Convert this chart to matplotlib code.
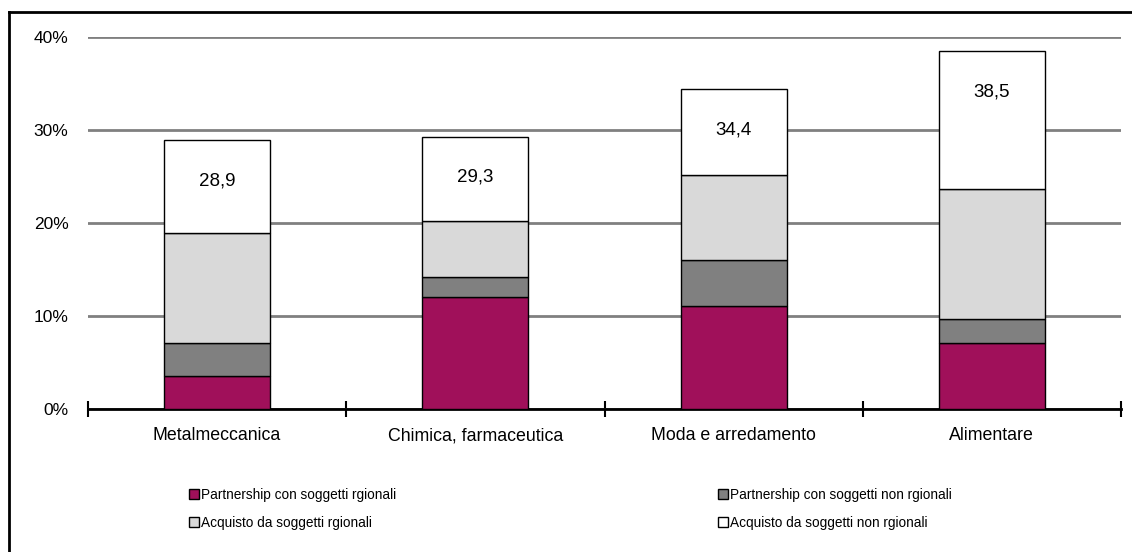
import matplotlib
matplotlib.use("Agg")
import matplotlib.pyplot as plt
from matplotlib.lines import Line2D
import numpy as np

categories = ["Metalmeccanica", "Chimica, farmaceutica", "Moda e arredamento", "Alimentare"]
series_names = ["Partnership con soggetti rgionali", "Partnership con soggetti non rgionali",
                "Acquisto da soggetti rgionali", "Acquisto da soggetti non rgionali"]
partner_reg = [3.6, 12.0, 11.1, 7.1]
partner_nonreg = [3.5, 2.2, 4.9, 2.6]
acquisto_reg = [11.8, 6.0, 9.2, 14.0]
acquisto_nonreg = [10.0, 9.1, 9.2, 14.8]
totals = [28.9, 29.3, 34.4, 38.5]
total_labels = ["28,9", "29,3", "34,4", "38,5"]
yticks = [0, 10, 20, 30, 40]
ytick_labels = ["0%", "10%", "20%", "30%", "40%"]

colors = ["#A0105A", "#808080", "#D9D9D9", "#FFFFFF"]
plt.rcParams['font.family'] = ['Liberation Sans', 'DejaVu Sans']

fig = plt.figure(figsize=(11.32, 5.52), dpi=100)
ax = fig.add_axes([88/1132, 1-409/552, (1121-88)/1132, (409-37)/552])

x = np.arange(len(categories))
bottom = np.zeros(len(categories))
for vals, c, name in zip([partner_reg, partner_nonreg, acquisto_reg, acquisto_nonreg], colors, series_names):
    ax.bar(x, vals, width=0.41, bottom=bottom, color=c, edgecolor="black", linewidth=1.0, label=name, zorder=3)
    bottom += np.array(vals)

for xi, t, lab in zip(x, totals, total_labels):
    ax.text(xi, t - 4.4, lab, ha="center", va="center", fontsize=13.5, color="black", zorder=4)

ax.set_xlim(-0.5, len(categories) - 0.5)
ax.set_ylim(0, 40)
ax.set_yticks(yticks)
ax.set_yticklabels(ytick_labels, fontsize=12.5)
ax.yaxis.grid(True, color="#808080", linewidth=2)
ax.set_axisbelow(True)
for s in ["left", "right", "top"]:
    ax.spines[s].set_visible(False)
ax.spines["bottom"].set_linewidth(2)
ax.tick_params(axis="y", length=0, pad=14)
ax.set_xticks(x)
ax.set_xticklabels(categories, fontsize=12.8)
ax.tick_params(axis="x", length=0, pad=13)
# category boundary ticks crossing the axis
ax.set_xticks(np.arange(-0.5, len(categories), 1.0), minor=True)
ax.tick_params(axis="x", which="minor", direction="inout", length=12, width=1.5)

handles, labels = ax.get_legend_handles_labels()
order = [0, 2, 1, 3]
leg = fig.legend([handles[i] for i in order], [labels[i] for i in order], ncol=2,
                 loc="center left", bbox_to_anchor=(189/1132, 1-509/552), frameon=False,
                 prop={'size': 9.8},
                 borderpad=0, borderaxespad=0,
                 handlelength=0.75, handleheight=0.75, handletextpad=0.15, columnspacing=23.6,
                 labelspacing=1.05)

# outer border (left and top visible)
fig.add_artist(Line2D([9/1132, 9/1132], [0, 1-12/552], color="black", linewidth=2, transform=fig.transFigure))
fig.add_artist(Line2D([9/1132, 1], [1-12/552, 1-12/552], color="black", linewidth=2, transform=fig.transFigure))

fig.savefig("out.png", dpi=100)
